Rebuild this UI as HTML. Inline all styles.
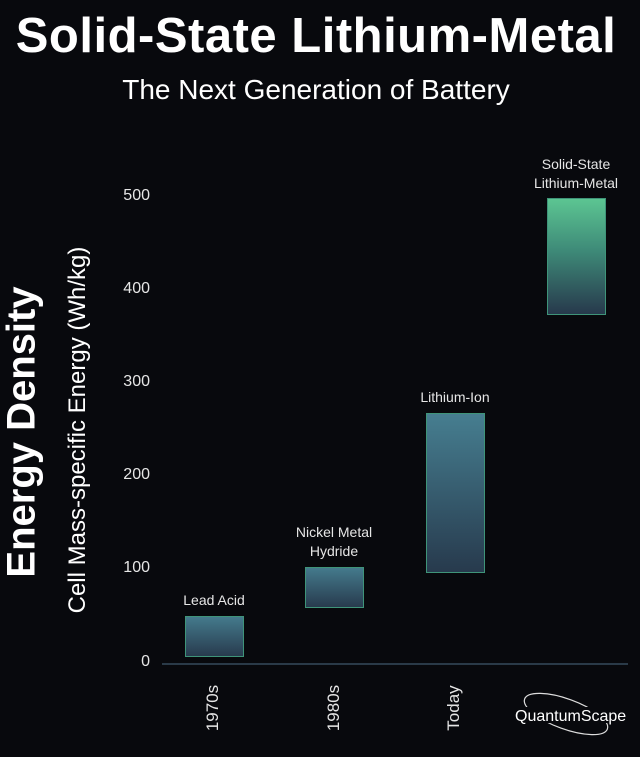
<!DOCTYPE html>
<html><head><meta charset="utf-8"><style>
body{margin:0;width:640px;height:757px;background:#08090d;overflow:hidden;font-family:"Liberation Sans",sans-serif;color:#fff;position:relative}
.a{position:absolute;white-space:nowrap}
.bar{position:absolute;border:1.5px solid #3f9479;box-sizing:border-box}
.lab{position:absolute;font-size:14px;color:#e6e6e6;text-align:center;width:140px;line-height:19px}
.tick{position:absolute;font-size:16px;color:#e6e6e6;text-align:right;width:60px}
.xl{position:absolute;font-size:17px;color:#e6e6e6;transform:rotate(-90deg);transform-origin:center}
</style></head><body>
<div class="a" style="left:0;width:632px;text-align:center;top:8px;font-size:49px;font-weight:bold;letter-spacing:0.5px">Solid-State Lithium-Metal</div>
<div class="a" style="left:0;width:632px;text-align:center;top:74px;font-size:28px;font-weight:300">The Next Generation of Battery</div>

<div class="a" style="left:22px;top:432px;transform:translate(-50%,-50%) rotate(-90deg);font-size:40px;font-weight:bold">Energy Density</div>
<div class="a" style="left:78px;top:430px;transform:translate(-50%,-50%) rotate(-90deg);font-size:24px">Cell Mass-specific Energy (Wh/kg)</div>

<div class="tick" style="left:90px;top:187px">500</div>
<div class="tick" style="left:90px;top:280px">400</div>
<div class="tick" style="left:90px;top:373px">300</div>
<div class="tick" style="left:90px;top:466px">200</div>
<div class="tick" style="left:90px;top:559px">100</div>
<div class="tick" style="left:90px;top:653px">0</div>

<div class="a" style="left:162px;top:663px;width:466px;height:2px;background:#2a3a48"></div>

<div class="bar" style="left:185px;top:616px;width:59px;height:41px;background:linear-gradient(#447a8c,#283b4e)"></div>
<div class="bar" style="left:305px;top:567px;width:59px;height:41px;background:linear-gradient(#447a8c,#283b4e)"></div>
<div class="bar" style="left:426px;top:413px;width:59px;height:160px;background:linear-gradient(#467e90,#273a4d)"></div>
<div class="bar" style="left:547px;top:198px;width:59px;height:117px;background:linear-gradient(#5cc592,#3e8a78 45%,#27394c)"></div>

<div class="lab" style="left:144px;top:591px">Lead Acid</div>
<div class="lab" style="left:264px;top:523px">Nickel Metal<br>Hydride</div>
<div class="lab" style="left:385px;top:388px">Lithium-Ion</div>
<div class="lab" style="left:506px;top:155px">Solid-State<br>Lithium-Metal</div>

<div class="xl" style="left:188px;top:698px;width:50px;text-align:center">1970s</div>
<div class="xl" style="left:309px;top:698px;width:50px;text-align:center">1980s</div>
<div class="xl" style="left:429px;top:698px;width:50px;text-align:center">Today</div>

<svg class="a" style="left:512px;top:685px" width="128" height="70">
<ellipse cx="54" cy="29" rx="44" ry="15" fill="none" stroke="#ddd" stroke-width="1.2" transform="rotate(20 54 29)"/>
<rect x="3" y="22" width="122" height="16" fill="#08090d"/>
<text x="3" y="36" font-family="Liberation Sans, sans-serif" font-size="16" fill="#fff">QuantumScape</text>
</svg>
</body></html>
